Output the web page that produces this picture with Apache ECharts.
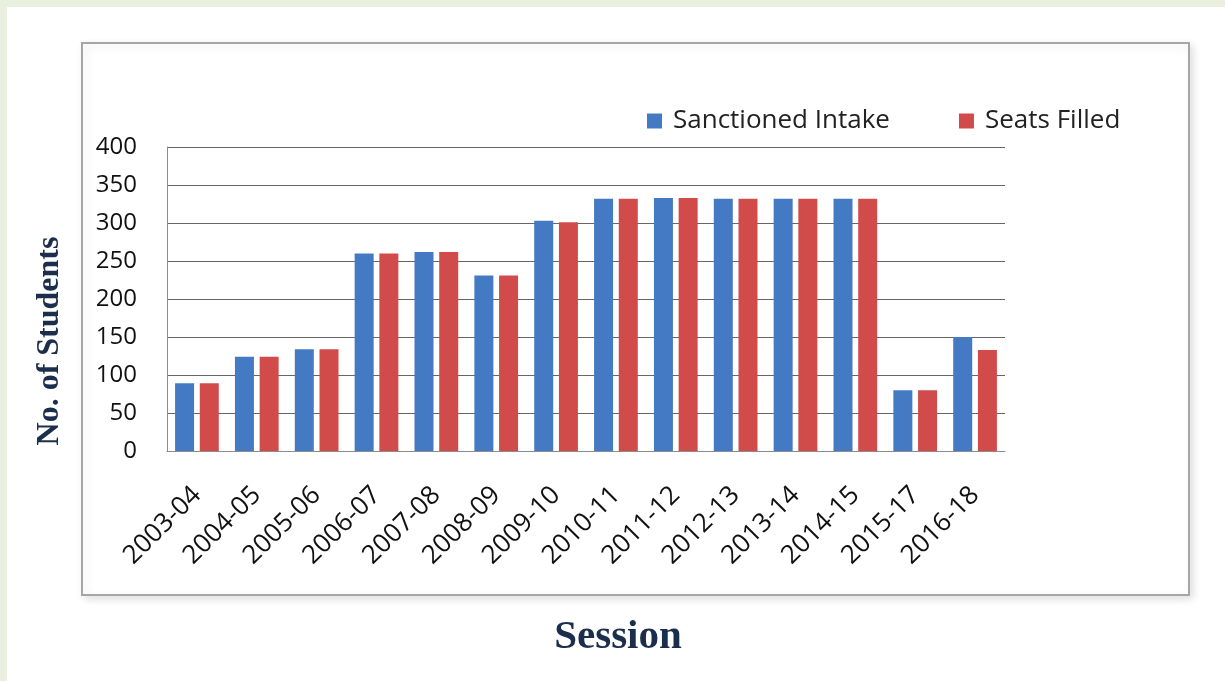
<!DOCTYPE html>
<html>
<head>
<meta charset="utf-8">
<script src="https://cdn.jsdelivr.net/npm/echarts@6/dist/echarts.min.js"></script>
<style>
html,body{margin:0;padding:0;background:#e9f0de;}
#c{width:1225px;height:681px;}
</style>
</head>
<body>
<div id="c"></div>
<script>
const sessions = ['2003-04','2004-05','2005-06','2006-07','2007-08','2008-09','2009-10','2010-11','2011-12','2012-13','2013-14','2014-15','2015-17','2016-18'];
const sanctionedIntake = [89,124,134,260,262,231,303,332,333,332,332,332,80,150];
const seatsFilled      = [89,124,134,260,262,231,301,332,333,332,332,332,80,133];
const yTicks = {min:0, max:400, interval:50};

const chart = echarts.init(document.getElementById('c'));
chart.setOption({
  backgroundColor:'#e9f0de',
  animation:false,
  graphic:[
    {type:'rect', z:-10, shape:{x:7,y:7,width:1218,height:674}, style:{fill:'#ffffff'}},
    {type:'rect', z:-9, shape:{x:82,y:43,width:1107,height:552}, style:{fill:'#ffffff', stroke:'#a6a6a6', lineWidth:2, shadowBlur:8, shadowColor:'rgba(0,0,0,0.12)', shadowOffsetX:3, shadowOffsetY:3}},
    {type:'text', x:50, y:341, rotation:Math.PI/2,
      style:{text:'No. of Students', font:'bold 32px "Liberation Serif", "Times New Roman", serif', fill:'#1b2e4b', textAlign:'center', textVerticalAlign:'middle'}},
    {type:'text', x:618, y:637,
      style:{text:'Session', font:'bold 41px "Liberation Serif", "Times New Roman", serif', fill:'#1b2e4b', textAlign:'center', textVerticalAlign:'middle'}}
  ],
  legend:{
    left:642, top:103,
    itemWidth:15, itemHeight:15, itemGap:69,
    icon:'rect',
    textStyle:{fontFamily:'"Open Sans", sans-serif', fontSize:26, color:'#222', padding:[0,0,0,6]},
    data:['Sanctioned Intake','Seats Filled']
  },
  grid:{left:167, right:220, top:147, bottom:230, containLabel:false},
  xAxis:{
    type:'category', data:sessions,
    axisLine:{show:true, lineStyle:{color:'#8c8c8c', width:1}},
    axisTick:{show:false},
    axisLabel:{rotate:45, margin:40, interval:0, fontFamily:'"Open Sans", sans-serif', fontSize:26, color:'#111'}
  },
  yAxis:{
    type:'value', min:yTicks.min, max:yTicks.max, interval:yTicks.interval,
    axisLine:{show:true, lineStyle:{color:'#8c8c8c', width:1}},
    axisTick:{show:false},
    axisLabel:{margin:30, fontFamily:'"Open Sans", sans-serif', fontSize:24, color:'#111'},
    splitLine:{show:true, lineStyle:{color:'#666666', width:1}}
  },
  series:[
    {name:'Sanctioned Intake', type:'bar', data:sanctionedIntake, barWidth:19, barGap:'30%', itemStyle:{color:'#4479c4'}},
    {name:'Seats Filled', type:'bar', data:seatsFilled, barWidth:19, barGap:'30%', itemStyle:{color:'#d24b4b'}}
  ]
});
</script>
</body>
</html>
